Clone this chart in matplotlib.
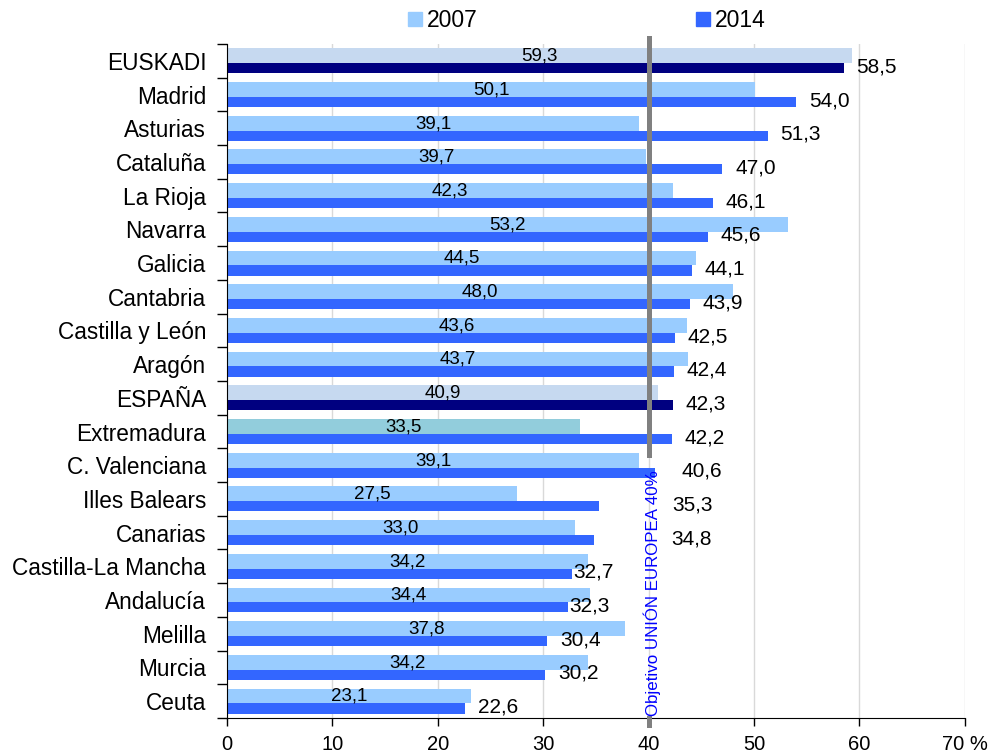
import matplotlib.pyplot as plt
from matplotlib.patches import Patch
import numpy as np

plt.rcParams['font.family'] = ['Liberation Sans', 'DejaVu Sans']

# data
regiones = ["EUSKADI", "Madrid", "Asturias", "Cataluña", "La Rioja", "Navarra", "Galicia",
            "Cantabria", "Castilla y León", "Aragón", "ESPAÑA", "Extremadura", "C. Valenciana",
            "Illes Balears", "Canarias", "Castilla-La Mancha", "Andalucía", "Melilla", "Murcia", "Ceuta"]
v2007 = [59.3, 50.1, 39.1, 39.7, 42.3, 53.2, 44.5, 48.0, 43.6, 43.7, 40.9, 33.5, 39.1,
         27.5, 33.0, 34.2, 34.4, 37.8, 34.2, 23.1]
v2014 = [58.5, 54.0, 51.3, 47.0, 46.1, 45.6, 44.1, 43.9, 42.5, 42.4, 42.3, 42.2, 40.6,
         35.3, 34.8, 32.7, 32.3, 30.4, 30.2, 22.6]
objetivo = 40

# colours (EUSKADI / ESPAÑA highlighted, Extremadura 2007 odd one)
c07, c14 = '#99ccff', '#3366ff'
col07 = [c07] * len(regiones)
col14 = [c14] * len(regiones)
for r in ["EUSKADI", "ESPAÑA"]:
    i = regiones.index(r)
    col07[i] = '#c6d9f0'
    col14[i] = '#000080'
col07[regiones.index("Extremadura")] = '#92cddc'

# 2014 labels that were moved by hand in the original (gap after bar end)
gap14 = {"C. Valenciana": 2.5, "Illes Balears": 6.9, "Canarias": 7.3,
         "Castilla-La Mancha": 0.1, "Andalucía": 0.2}

y = np.arange(len(regiones))

fig = plt.figure(figsize=(10.05, 7.56), dpi=100)
ax = fig.add_axes([0.2259, 0.0503, 0.7342, 0.8915])

ax.barh(y - 0.37, v2007, height=0.44, align='edge', color=col07, zorder=2)
ax.barh(y + 0.07, v2014, height=0.30, align='edge', color=col14, zorder=2)

for yi, v in zip(y, v2007):
    ax.text(v / 2, yi - 0.14, f"{v:.1f}".replace('.', ','), ha='center', va='center',
            fontsize=13.5, zorder=4)
for r, yi, v in zip(regiones, y, v2014):
    ax.text(v + gap14.get(r, 1.2), yi + 0.18, f"{v:.1f}".replace('.', ','), ha='left',
            va='center', fontsize=15, zorder=4)

# EU objective line
ax.plot([objetivo, objetivo], [-0.68, 11.7], color='#808080', lw=3.6, zorder=3, clip_on=False)
ax.plot([objetivo, objetivo], [19.5, 19.7], color='#808080', lw=3.6, zorder=3, clip_on=False)
ax.text(objetivo + 0.3, 19.45, "Objetivo UNIÓN EUROPEA 40%", rotation=90, ha='center',
        va='bottom', color='#0000ff', fontsize=12.2, zorder=4)

ax.set_xlim(0, 70)
ax.set_ylim(19.5, -0.5)
ax.set_xticks(range(0, 71, 10))
ax.set_xticklabels([str(t) for t in range(0, 70, 10)] + ["70 %"], fontsize=14.5)
ax.set_yticks(y)
ax.set_yticklabels(regiones, fontsize=16.3)
ax.set_yticks(np.arange(-0.5, 20, 1), minor=True)
ax.tick_params(axis='y', which='major', length=0, pad=15)
ax.tick_params(axis='y', which='minor', length=7, width=1, direction='out')
ax.tick_params(axis='x', length=6, width=1, direction='out', pad=6)
ax.xaxis.grid(True, color='#d9d9d9', lw=1, zorder=0)
ax.set_axisbelow(True)
for s in ['top', 'right']:
    ax.spines[s].set_visible(False)

handles = [Patch(color=c07, label='2007'), Patch(color=c14, label='2014')]
fig.legend(handles=handles, loc='center', bbox_to_anchor=(0.584, 0.973), ncol=2,
           frameon=False, fontsize=16.5, handlelength=0.6, handleheight=0.6,
           handletextpad=0.25, columnspacing=9.5)

fig.savefig('out.png', dpi=100)
